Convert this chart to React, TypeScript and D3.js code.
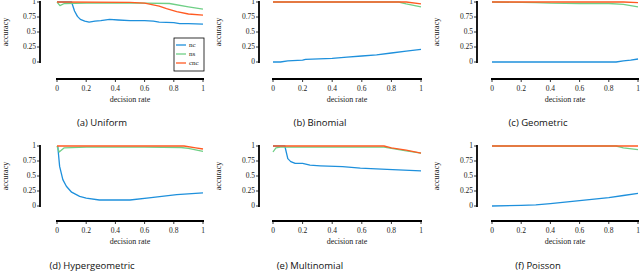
import React from "react";
import * as d3 from "d3";

type Pt = [number, number];

const xTicks = [0, 0.2, 0.4, 0.6, 0.8, 1];
const yTicks = [0, 0.25, 0.5, 0.75, 1];
const seriesNames = ["nc", "ns", "cnc"];
const seriesColors = ["#1e90dc", "#6fcf86", "#ff5a22"];

const uniformNc: Pt[] = [[0, 1], [0.1, 1], [0.12, 0.85], [0.14, 0.76], [0.16, 0.71], [0.19, 0.68], [0.22, 0.665], [0.26, 0.68], [0.3, 0.69], [0.36, 0.71], [0.42, 0.7], [0.5, 0.69], [0.6, 0.69], [0.66, 0.68], [0.7, 0.665], [0.8, 0.655], [0.84, 0.64], [0.9, 0.64], [1, 0.63]];
const uniformNs: Pt[] = [[0, 1], [0.02, 0.94], [0.05, 0.975], [0.2, 0.98], [0.4, 0.98], [0.6, 0.98], [0.77, 0.975], [0.9, 0.92], [1, 0.88]];
const uniformCnc: Pt[] = [[0, 1], [0.5, 0.995], [0.6, 0.98], [0.7, 0.93], [0.75, 0.89], [0.82, 0.84], [0.9, 0.8], [1, 0.78]];

const binomialNc: Pt[] = [[0, 0], [0.05, 0], [0.1, 0.02], [0.2, 0.03], [0.22, 0.045], [0.4, 0.06], [0.5, 0.08], [0.6, 0.1], [0.7, 0.12], [0.8, 0.15], [0.9, 0.18], [1, 0.21]];
const binomialNs: Pt[] = [[0, 1], [0.85, 1], [0.9, 0.97], [1, 0.92]];
const binomialCnc: Pt[] = [[0, 1], [0.9, 1], [1, 0.97]];

const geometricNc: Pt[] = [[0, 0], [0.85, 0], [0.9, 0.02], [0.95, 0.03], [1, 0.05]];
const geometricNs: Pt[] = [[0, 1], [0.3, 0.99], [0.4, 0.98], [0.6, 0.975], [0.8, 0.975], [0.9, 0.96], [1, 0.92]];
const geometricCnc: Pt[] = [[0, 1], [0.9, 1], [1, 0.99]];

const hyperNc: Pt[] = [[0.005, 1], [0.018, 0.66], [0.04, 0.44], [0.064, 0.33], [0.1, 0.23], [0.155, 0.16], [0.2, 0.13], [0.29, 0.1], [0.5, 0.1], [0.63, 0.137], [0.82, 0.19], [1, 0.22]];
const hyperNs: Pt[] = [[0, 1], [0.015, 0.9], [0.05, 0.97], [0.2, 0.98], [0.6, 0.98], [0.85, 0.975], [0.9, 0.96], [1, 0.91]];
const hyperCnc: Pt[] = [[0, 1], [0.87, 1], [0.95, 0.97], [1, 0.95]];

const multiNc: Pt[] = [[0, 1], [0.08, 1], [0.1, 0.79], [0.12, 0.74], [0.15, 0.71], [0.2, 0.71], [0.25, 0.68], [0.32, 0.67], [0.47, 0.656], [0.59, 0.63], [0.77, 0.61], [1, 0.585]];
const multiNs: Pt[] = [[0, 0.9], [0.02, 0.97], [0.05, 0.98], [0.75, 0.98], [0.8, 0.96], [0.9, 0.92], [1, 0.88]];
const multiCnc: Pt[] = [[0, 1], [0.75, 1], [0.8, 0.97], [0.9, 0.93], [1, 0.88]];

const poissonNc: Pt[] = [[0, 0], [0.2, 0.01], [0.3, 0.02], [0.4, 0.04], [0.5, 0.065], [0.6, 0.09], [0.7, 0.115], [0.8, 0.14], [0.9, 0.175], [1, 0.21]];
const poissonNs: Pt[] = [[0, 1], [0.85, 1], [0.9, 0.97], [1, 0.94]];
const poissonCnc: Pt[] = [[0, 1], [1, 1]];

const captions = ["(a) Uniform", "(b) Binomial", "(c) Geometric", "(d) Hypergeometric", "(e) Multinomial", "(f) Poisson"];
const panelSeries: Pt[][][] = [
  [uniformNc, uniformNs, uniformCnc],
  [binomialNc, binomialNs, binomialCnc],
  [geometricNc, geometricNs, geometricCnc],
  [hyperNc, hyperNs, hyperCnc],
  [multiNc, multiNs, multiCnc],
  [poissonNc, poissonNs, poissonCnc],
];

// layout
const colLayout = [
  { yAxisX: 40, x0: 57, x1: 203, capX: [102, 92] },
  { yAxisX: 259, x0: 273, x1: 421, capX: [320, 310] },
  { yAxisX: 477, x0: 492, x1: 638, capX: [538, 538] },
];
const rowLayout = [
  { y1: 2, y0: 62, xAxisY: 79, capY: 126 },
  { y1: 146, y0: 206, xAxisY: 221, capY: 268.5 },
];

const serif = "'Liberation Serif', 'Times New Roman', serif";
const sans = "'Open Sans', 'Noto Sans', sans-serif";

function Panel({ idx }: { idx: number }) {
  const col = colLayout[idx % 3];
  const row = Math.floor(idx / 3);
  const rl = rowLayout[row];
  const x = d3.scaleLinear().domain([0, 1]).range([col.x0, col.x1]);
  const y = d3.scaleLinear().domain([0, 1]).range([rl.y0, rl.y1]);
  const xAxisY = rl.xAxisY;
  const line = d3
    .line<Pt>()
    .x((d) => x(d[0]))
    .y((d) => y(d[1]));
  const series = panelSeries[idx];
  return (
    <g>
      {/* y axis */}
      <line x1={col.yAxisX} x2={col.yAxisX} y1={y(1) - 1} y2={y(0) + 1} stroke="#000" strokeWidth={1.8} />
      {yTicks.map((t) => (
        <g key={"y" + t}>
          <line x1={col.yAxisX - 3} x2={col.yAxisX} y1={y(t)} y2={y(t)} stroke="#000" strokeWidth={0.8} />
          <text x={col.yAxisX - 4} y={y(t)} dy="0.33em" textAnchor="end" fontFamily={serif} fontSize={7.5} fill="#222">
            {String(t)}
          </text>
        </g>
      ))}
      <text
        transform={`translate(${col.yAxisX - (idx % 3 === 0 ? 32 : 38)},${y(0.5)}) rotate(-90)`}
        textAnchor="middle"
        fontFamily={serif}
        fontSize={8}
        fill="#222"
      >
        accuracy
      </text>
      {/* x axis */}
      <line x1={x(0) - 1} x2={x(1) + 1} y1={xAxisY} y2={xAxisY} stroke="#000" strokeWidth={1.8} />
      {xTicks.map((t) => (
        <g key={"x" + t}>
          <line x1={x(t)} x2={x(t)} y1={xAxisY} y2={xAxisY + 3} stroke="#000" strokeWidth={0.8} />
          <text x={x(t)} y={xAxisY + 11.5} textAnchor="middle" fontFamily={serif} fontSize={7.5} fill="#222">
            {String(t)}
          </text>
        </g>
      ))}
      <text x={(col.x0 + col.x1) / 2} y={xAxisY + 23} textAnchor="middle" fontFamily={serif} fontSize={8} fill="#222">
        decision rate
      </text>
      {/* lines */}
      {series.map((s, i) => (
        <path key={i} d={line(s) || ""} fill="none" stroke={seriesColors[i]} strokeWidth={1.3} strokeLinejoin="round" />
      ))}
      <text x={col.capX[row]} y={rl.capY} textAnchor="middle" fontFamily={sans} fontSize={9.5} fill="#111">
        {captions[idx]}
      </text>
      {idx === 0 && (
        <g>
          <rect x={174} y={38} width={30} height={33} fill="#fff" stroke="#000" strokeWidth={0.8} />
          {seriesNames.map((n, i) => (
            <g key={n}>
              <line x1={176} x2={186} y1={45 + i * 9} y2={45 + i * 9} stroke={seriesColors[i]} strokeWidth={1.3} />
              <text x={189} y={45 + i * 9} dy="0.33em" fontFamily={serif} fontSize={7} fill="#222">
                {n}
              </text>
            </g>
          ))}
        </g>
      )}
    </g>
  );
}

export default function App() {
  return (
    <svg
      width={640}
      height={273}
      viewBox="0 0 640 273"
      style={{ position: "absolute", left: 0, top: 0, background: "#fff" }}
    >
      <rect width={640} height={273} fill="#fff" />
      {captions.map((_, i) => (
        <Panel key={i} idx={i} />
      ))}
    </svg>
  );
}
